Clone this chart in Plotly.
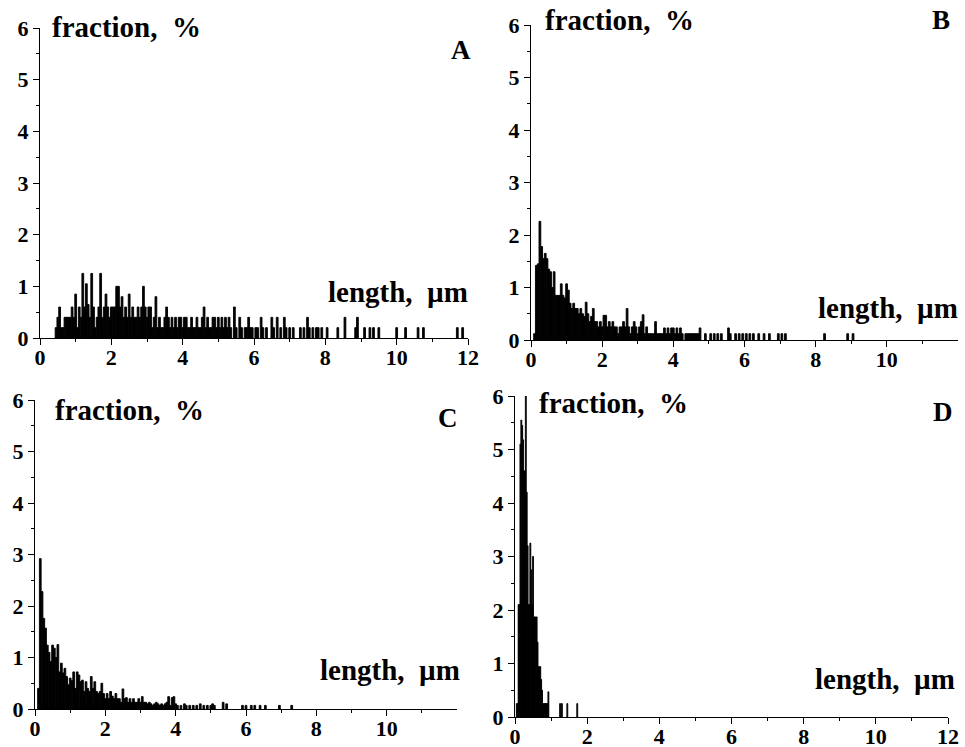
import plotly.graph_objects as go

# ---------------- data ----------------
# Panel A, bin width 0.05 um
a_len = [0.45, 0.50, 0.55, 0.60, 0.65, 0.70, 0.75, 0.80, 0.85, 0.90, 0.95, 1.00, 1.05, 1.10, 1.15,
         1.20, 1.25, 1.30, 1.35, 1.40, 1.45, 1.50, 1.55, 1.60, 1.65, 1.70, 1.75, 1.80, 1.85, 1.90,
         1.95, 2.00, 2.05, 2.10, 2.15, 2.20, 2.25, 2.30, 2.35, 2.40, 2.45, 2.50, 2.55, 2.60, 2.65,
         2.70, 2.75, 2.80, 2.85, 2.90, 2.95, 3.00, 3.05, 3.10, 3.15, 3.20, 3.25, 3.30, 3.35, 3.40,
         3.45, 3.50, 3.55, 3.60, 3.65, 3.70, 3.75, 3.80, 3.85, 3.90, 3.95, 4.00, 4.05, 4.10, 4.15,
         4.20, 4.25, 4.30, 4.35, 4.40, 4.45, 4.50, 4.55, 4.60, 4.65, 4.70, 4.75, 4.80, 4.85, 4.90,
         4.95, 5.00, 5.05, 5.10, 5.15, 5.20, 5.25, 5.30, 5.35, 5.45, 5.50, 5.60, 5.65, 5.75, 5.80,
         5.85, 5.90, 5.95, 6.05, 6.10, 6.20, 6.25, 6.35, 6.50, 6.55, 6.65, 6.75, 6.85, 6.90, 7.00,
         7.10, 7.30, 7.40, 7.50, 7.55, 7.65, 7.75, 7.80, 7.90, 8.05, 8.35, 8.55, 8.85, 8.90, 9.10,
         9.25, 9.35, 9.50, 10.00, 10.25, 10.60, 10.75, 11.70, 11.85]
a_frac = [0.2, 0.4, 0.6, 0.2, 0.2, 0.4, 0.4, 0.4, 0.4, 0.6, 0.4, 0.85, 0.2, 0.6, 0.4,
          1.25, 0.6, 1.05, 0.65, 0.4, 1.25, 0.6, 0.2, 0.4, 0.6, 1.25, 0.4, 0.6, 0.85, 0.6,
          0.4, 0.6, 0.6, 0.6, 1.0, 1.0, 0.6, 0.8, 0.4, 0.6, 0.4, 0.85, 0.4, 0.6, 0.4,
          0.4, 0.6, 0.4, 0.6, 1.0, 0.6, 0.4, 0.6, 0.6, 0.2, 0.4, 0.8, 0.2, 0.4, 0.2,
          0.2, 0.4, 0.6, 0.4, 0.2, 0.4, 0.2, 0.4, 0.2, 0.4, 0.4, 0.2, 0.4, 0.4, 0.2,
          0.2, 0.4, 0.2, 0.2, 0.4, 0.2, 0.2, 0.4, 0.6, 0.2, 0.4, 0.2, 0.2, 0.4, 0.4,
          0.2, 0.4, 0.2, 0.4, 0.2, 0.4, 0.2, 0.4, 0.2, 0.6, 0.2, 0.4, 0.2, 0.2, 0.2,
          0.4, 0.2, 0.2, 0.2, 0.2, 0.4, 0.2, 0.2, 0.4, 0.2, 0.4, 0.2, 0.4, 0.2, 0.2,
          0.2, 0.2, 0.2, 0.4, 0.2, 0.2, 0.2, 0.2, 0.2, 0.2, 0.2, 0.4, 0.2, 0.4, 0.2,
          0.2, 0.2, 0.2, 0.2, 0.2, 0.2, 0.2, 0.2, 0.2]

# Panel B, bin width 0.05 um
b_len = [0.10, 0.15, 0.20, 0.25, 0.30, 0.35, 0.40, 0.45, 0.50, 0.55, 0.60, 0.65, 0.70, 0.75, 0.80,
         0.85, 0.90, 0.95, 1.00, 1.05, 1.10, 1.15, 1.20, 1.25, 1.30, 1.35, 1.40, 1.45, 1.50, 1.55,
         1.60, 1.65, 1.70, 1.75, 1.80, 1.85, 1.90, 1.95, 2.00, 2.05, 2.10, 2.15, 2.20, 2.25, 2.30,
         2.35, 2.40, 2.45, 2.50, 2.55, 2.60, 2.65, 2.70, 2.75, 2.80, 2.85, 2.90, 2.95, 3.00, 3.05,
         3.10, 3.15, 3.20, 3.25, 3.30, 3.35, 3.40, 3.45, 3.50, 3.55, 3.60, 3.65, 3.70, 3.75, 3.80,
         3.85, 3.90, 3.95, 4.00, 4.05, 4.10, 4.15, 4.20, 4.25, 4.35, 4.40, 4.45, 4.50, 4.55, 4.60,
         4.65, 4.70, 4.75, 4.90, 5.05, 5.15, 5.25, 5.35, 5.55, 5.60, 5.75, 5.85, 5.95, 6.05, 6.15,
         6.25, 6.40, 6.55, 6.70, 6.95, 7.05, 7.15, 8.25, 8.90, 9.05]
b_frac = [0.12, 1.42, 1.45, 2.26, 1.78, 1.55, 1.65, 1.55, 1.35, 1.30, 1.00, 1.30, 0.85, 0.85, 0.85,
          1.07, 0.85, 0.80, 1.07, 0.95, 0.70, 0.60, 0.70, 0.60, 0.60, 0.50, 0.60, 0.50, 0.45, 0.72,
          0.50, 0.35, 0.45, 0.60, 0.35, 0.35, 0.25, 0.35, 0.25, 0.47, 0.47, 0.25, 0.35, 0.25, 0.35,
          0.25, 0.25, 0.12, 0.25, 0.25, 0.35, 0.25, 0.60, 0.25, 0.12, 0.25, 0.35, 0.25, 0.12, 0.25,
          0.35, 0.48, 0.12, 0.25, 0.12, 0.12, 0.12, 0.12, 0.35, 0.12, 0.12, 0.12, 0.12, 0.23, 0.12,
          0.23, 0.12, 0.23, 0.23, 0.12, 0.23, 0.12, 0.23, 0.12, 0.12, 0.12, 0.12, 0.12, 0.12, 0.12,
          0.12, 0.12, 0.23, 0.12, 0.12, 0.12, 0.12, 0.12, 0.23, 0.12, 0.12, 0.12, 0.12, 0.12, 0.12,
          0.12, 0.12, 0.12, 0.12, 0.12, 0.12, 0.12, 0.12, 0.12, 0.12]

# Panel C, bin width 0.05 um
c_len = [0.10, 0.15, 0.20, 0.25, 0.30, 0.35, 0.40, 0.45, 0.50, 0.55, 0.60, 0.65, 0.70, 0.75, 0.80,
         0.85, 0.90, 0.95, 1.00, 1.05, 1.10, 1.15, 1.20, 1.25, 1.30, 1.35, 1.40, 1.45, 1.50, 1.55,
         1.60, 1.65, 1.70, 1.75, 1.80, 1.85, 1.90, 1.95, 2.00, 2.05, 2.10, 2.15, 2.20, 2.25, 2.30,
         2.35, 2.40, 2.45, 2.50, 2.55, 2.60, 2.65, 2.70, 2.75, 2.80, 2.85, 2.90, 2.95, 3.00, 3.05,
         3.10, 3.15, 3.20, 3.25, 3.30, 3.35, 3.40, 3.45, 3.50, 3.55, 3.60, 3.65, 3.70, 3.75, 3.80,
         3.85, 3.90, 3.95, 4.00, 4.05, 4.15, 4.25, 4.30, 4.40, 4.50, 4.60, 4.70, 4.80, 4.90, 5.00,
         5.05, 5.10, 5.35, 5.45, 5.90, 6.00, 6.15, 6.25, 6.40, 6.55, 6.95, 7.30]
c_frac = [0.40, 2.92, 2.28, 1.76, 1.57, 1.24, 1.10, 0.92, 1.24, 1.18, 1.00, 1.25, 0.72, 0.89, 0.70,
          0.79, 0.63, 0.47, 0.60, 0.55, 0.72, 0.40, 0.72, 0.66, 0.53, 0.56, 0.34, 0.53, 0.40, 0.34,
          0.63, 0.40, 0.53, 0.34, 0.30, 0.34, 0.50, 0.30, 0.20, 0.30, 0.20, 0.34, 0.25, 0.20, 0.30,
          0.20, 0.20, 0.13, 0.39, 0.20, 0.22, 0.13, 0.20, 0.13, 0.20, 0.13, 0.13, 0.20, 0.13, 0.24,
          0.13, 0.13, 0.10, 0.13, 0.10, 0.07, 0.10, 0.13, 0.10, 0.07, 0.10, 0.07, 0.10, 0.13, 0.24,
          0.07, 0.22, 0.24, 0.10, 0.07, 0.07, 0.10, 0.07, 0.07, 0.07, 0.07, 0.10, 0.07, 0.07, 0.07,
          0.10, 0.07, 0.13, 0.10, 0.07, 0.07, 0.07, 0.07, 0.07, 0.07, 0.07, 0.07]

# Panel D, bin width 0.025 um
d_len = [0.050, 0.075, 0.100, 0.125, 0.150, 0.175, 0.200, 0.225, 0.250, 0.275, 0.300, 0.325,
         0.350, 0.375, 0.400, 0.425, 0.450, 0.475, 0.500, 0.525, 0.550, 0.575, 0.600, 0.625,
         0.650, 0.675, 0.700, 0.725, 0.750, 0.775, 0.800, 0.825, 0.850, 0.875, 0.900, 0.925,
         1.250, 1.300, 1.450, 1.725]
d_frac = [0.25, 0.25, 2.10, 2.10, 5.10, 5.55, 5.45, 5.18, 4.60, 4.60, 6.00, 4.20,
          3.20, 2.10, 2.10, 3.25, 2.75, 2.10, 3.00, 1.87, 1.87, 1.87, 1.87, 1.40,
          0.94, 0.94, 0.94, 0.70, 0.50, 0.25, 0.25, 0.25, 0.25, 0.25, 0.25, 0.47,
          0.25, 0.25, 0.25, 0.25]

panel_labels = ["A", "B", "C", "D"]
x_ticks_full = [0, 2, 4, 6, 8, 10, 12]
x_ticks_short = [0, 2, 4, 6, 8, 10]
y_ticks = [0, 1, 2, 3, 4, 5, 6]

# ---------------- layout helpers ----------------
W, H = 965, 747


def px(x):
    return x / W


def py(y):
    return 1 - y / H


# plot areas in screen pixels: (left, right, top, bottom)
areas = [(40, 468, 28, 338), (531, 958, 25, 340), (35, 457, 400, 709), (515, 948, 396, 717)]
series = [(a_len, a_frac, 0.05), (b_len, b_frac, 0.05), (c_len, c_frac, 0.05), (d_len, d_frac, 0.025)]
xticks = [x_ticks_full, x_ticks_short, x_ticks_short, x_ticks_full]

FONT = "Times New Roman, Liberation Serif, Tinos, serif"
tickfont = dict(family=FONT, size=22, color="black", weight="bold")

fig = go.Figure()
layout = dict(width=W, height=H, margin=dict(l=0, r=0, t=0, b=0, autoexpand=False),
              paper_bgcolor="white", plot_bgcolor="white", showlegend=False)

for i, ((l, r, t, b), (xs, ys, w), xt) in enumerate(zip(areas, series, xticks)):
    k = "" if i == 0 else str(i + 1)
    fig.add_trace(go.Bar(x=xs, y=ys, width=w,
                         marker=dict(color="black", line=dict(width=0.9, color="black")),
                         xaxis="x" + k, yaxis="y" + k))
    layout["xaxis" + k] = dict(domain=[px(l), px(r)], anchor="y" + k, range=[0, 12],
                               automargin=False, ticklabelstandoff=-7,
                               tickvals=xt, ticks="outside", ticklen=6, tickwidth=1.2,
                               showline=True, linecolor="black", linewidth=1.2,
                               showgrid=False, zeroline=False, tickfont=tickfont,
                               minor=dict(ticks="outside", ticklen=3, tickwidth=1,
                                          tickvals=[1, 3, 5, 7, 9, 11], tickcolor="black"),
                               tickcolor="black")
    layout["yaxis" + k] = dict(domain=[py(b), py(t)], anchor="x" + k, range=[0, 6],
                               automargin=False,
                               tickvals=y_ticks, ticks="outside", ticklen=6, tickwidth=1.2,
                               showline=True, linecolor="black", linewidth=1.2,
                               showgrid=False, zeroline=False, tickfont=tickfont,
                               minor=dict(ticks="outside", ticklen=3, tickwidth=1,
                                          dtick=0.5, tickcolor="black"),
                               tickcolor="black")

fig.update_layout(**layout)

labfont = dict(family=FONT, size=29, color="black", weight="bold")
letfont = dict(family=FONT, size=27, color="black", weight="bold")
frac_text = "fraction,\u00a0 %"
len_text = "length,\u00a0 µm"
# (fraction x, fraction y, letter x, letter y, length right x, length y) in screen pixels
text_pos = [
    (50, 27, 461, 50, 470, 292),
    (543, 20, 941, 20, 960, 308),
    (53, 410, 448, 418, 462, 670),
    (537, 403, 943, 412, 957, 679),
]
for lab, (fx, fy, lx, ly, rx, ry) in zip(panel_labels, text_pos):
    fig.add_annotation(x=px(fx), y=py(fy), xref="paper", yref="paper", text=frac_text,
                       showarrow=False, xanchor="left", yanchor="middle", font=labfont)
    fig.add_annotation(x=px(lx), y=py(ly), xref="paper", yref="paper", text=lab,
                       showarrow=False, xanchor="center", yanchor="middle", font=letfont)
    fig.add_annotation(x=px(rx), y=py(ry), xref="paper", yref="paper", text=len_text,
                       showarrow=False, xanchor="right", yanchor="middle", font=labfont)

# remove the default page margin so the figure sits at the window's top-left corner
fig.write_html("out.html", config={"displayModeBar": False},
               post_script="document.body.style.margin='0';document.body.style.overflow='hidden';")
